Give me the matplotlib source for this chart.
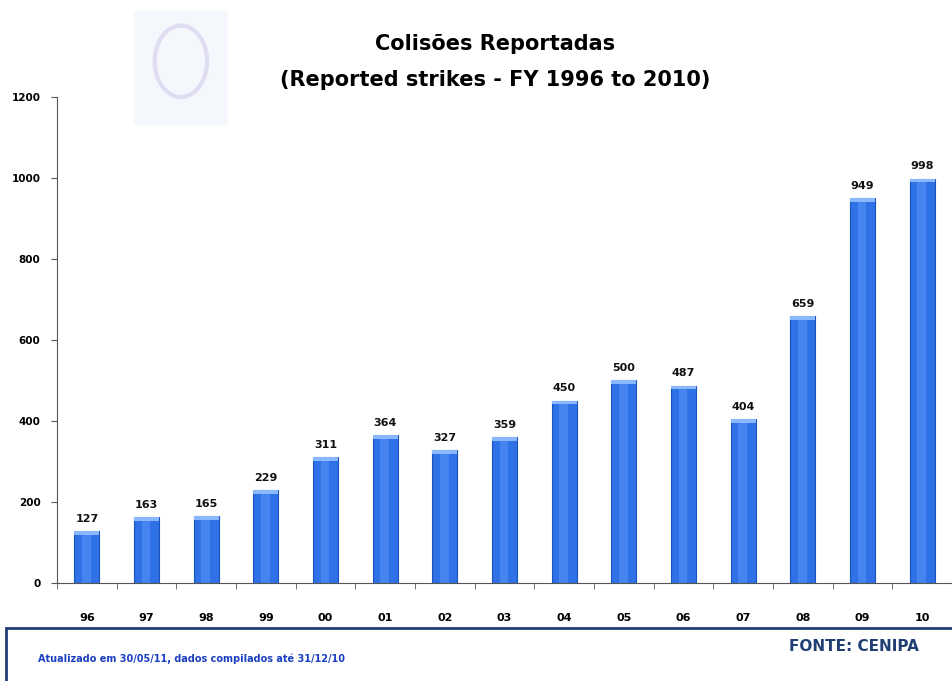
import matplotlib.pyplot as plt
from matplotlib.patches import Rectangle, Ellipse, FancyBboxPatch
import numpy as np

# === Data ===
years = ['96', '97', '98', '99', '00', '01', '02', '03', '04', '05', '06', '07', '08', '09', '10']
strikes = [127, 163, 165, 229, 311, 364, 327, 359, 450, 500, 487, 404, 659, 949, 998]
y_ticks = [0, 200, 400, 600, 800, 1000, 1200]

fig = plt.figure(figsize=(9.52, 6.81), dpi=100)

# faint logo watermark behind the title
fig.patches.append(FancyBboxPatch((0.145, 0.82), 0.09, 0.16, boxstyle='round,pad=0.004',
                                  transform=fig.transFigure, facecolor='#f4f7fc', edgecolor='none'))
fig.patches.append(Ellipse((0.19, 0.91), 0.055, 0.105, transform=fig.transFigure, fill=False,
                           edgecolor='#e0ddf3', linewidth=3))

ax = fig.add_axes([0.06, 0.144, 0.94, 0.714])

x = np.arange(len(years))
bars = ax.bar(x, strikes, width=0.42, color='#2f71e6', edgecolor='#1c52bd', linewidth=0.8, zorder=2)

# lighter band in the middle + light cap to mimic the cylinder look
for b in bars:
    ax.add_patch(Rectangle((b.get_x() + b.get_width() * 0.3, 0), b.get_width() * 0.35, b.get_height(),
                           color='#5a96f7', alpha=0.55, lw=0, zorder=3))
    ax.add_patch(Rectangle((b.get_x(), b.get_height() - 9), b.get_width(), 9,
                           color='#8ab8ff', lw=0, zorder=3))

for xi, v in zip(x, strikes):
    ax.text(xi, v + 18, str(v), ha='center', va='bottom', fontsize=8, fontweight='bold', color='#111111')

ax.set_xlim(-0.5, len(years) - 0.5)
ax.set_ylim(0, 1200)
ax.set_yticks(y_ticks)
ax.set_yticklabels([str(t) for t in y_ticks], fontsize=7.5, fontweight='bold')
ax.set_xticks(x)
ax.set_xticklabels(years, fontsize=8, fontweight='bold')
ax.tick_params(axis='x', length=0, pad=22)
ax.set_xticks(np.arange(-0.5, len(years), 1), minor=True)
ax.tick_params(axis='x', which='minor', length=4, color='#555555')
ax.tick_params(axis='y', length=4, color='#555555', pad=8)

for s in ['top', 'right']:
    ax.spines[s].set_visible(False)
ax.spines['left'].set_color('#555555')
ax.spines['bottom'].set_color('#555555')

fig.text(0.52, 0.935, 'Colisões Reportadas', ha='center', va='center', fontsize=15, fontweight='bold')
fig.text(0.52, 0.882, '(Reported strikes - FY 1996 to 2010)', ha='center', va='center', fontsize=15, fontweight='bold')

# footer box
fig.patches.append(Rectangle((0.006, -0.01), 1.0, 0.088, transform=fig.transFigure,
                             facecolor='white', edgecolor='#1f3f75', linewidth=2))
fig.text(0.04, 0.033, 'Atualizado em 30/05/11, dados compilados até 31/12/10', ha='left', va='center',
         fontsize=7, fontweight='bold', color='#1a3fc0')
fig.text(0.965, 0.05, 'FONTE: CENIPA', ha='right', va='center', fontsize=11, fontweight='bold', color='#1f3f75')

plt.savefig('out.png', dpi=100)
